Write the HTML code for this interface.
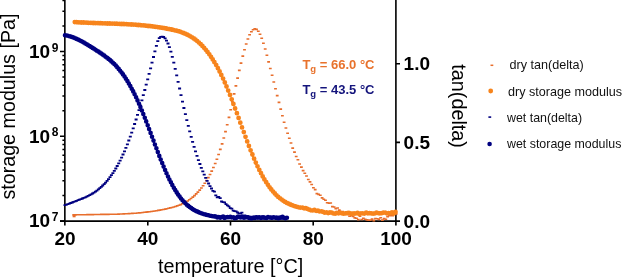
<!DOCTYPE html>
<html><head><meta charset="utf-8"><title>DMA plot</title>
<style>html,body{margin:0;padding:0;background:#fff;overflow:hidden}svg{display:block}</style>
</head><body>
<svg width="622" height="278" viewBox="0 0 622 278" font-family="'Liberation Sans', sans-serif" fill="#000">
<rect width="622" height="278" fill="#fff"/>
<path d="M64.85 0V225.5M395.9 0V225.5M60.0 221.1H400.0" stroke="#000" stroke-width="1.6" fill="none"/><path d="M60.0 221.1H65.0M60.0 136.3H65.0M60.0 51.6H65.0M62.4 195.6H65.0M62.4 180.7H65.0M62.4 170.1H65.0M62.4 161.9H65.0M62.4 155.2H65.0M62.4 149.5H65.0M62.4 144.6H65.0M62.4 140.2H65.0M62.4 110.8H65.0M62.4 95.9H65.0M62.4 85.3H65.0M62.4 77.1H65.0M62.4 70.4H65.0M62.4 64.7H65.0M62.4 59.8H65.0M62.4 55.5H65.0M62.4 26.1H65.0M62.4 11.2H65.0M62.4 0.6H65.0" stroke="#000" stroke-width="1.5" fill="none"/><path d="M396.0 142.4H400.0M396.0 63.8H400.0M147.8 221.1V225.5M230.5 221.1V225.5M313.2 221.1V225.5" stroke="#000" stroke-width="1.6" fill="none"/>
<path d="M72.4 214.9h2.8M74.1 214.9h2.8M75.8 214.8h2.8M77.6 214.8h2.8M79.3 214.8h2.8M81.0 214.7h2.8M82.7 214.7h2.8M84.5 214.7h2.8M86.2 214.6h2.8M87.9 214.6h2.8M89.6 214.6h2.8M91.4 214.6h2.8M93.1 214.5h2.8M94.8 214.5h2.8M96.5 214.5h2.8M98.3 214.5h2.8M100.0 214.4h2.8M101.7 214.4h2.8M103.4 214.4h2.8M105.2 214.4h2.8M106.9 214.4h2.8M108.6 214.3h2.8M110.3 214.3h2.8M112.1 214.3h2.8M113.8 214.2h2.8M115.5 214.2h2.8M117.2 214.1h2.8M118.9 214.0h2.8M120.7 214.0h2.8M122.4 213.9h2.8M124.1 213.8h2.8M125.8 213.7h2.8M127.6 213.6h2.8M129.3 213.5h2.8M131.0 213.4h2.8M132.7 213.3h2.8M134.5 213.2h2.8M136.2 213.0h2.8M137.9 212.9h2.8M139.6 212.7h2.8M141.4 212.5h2.8M143.1 212.3h2.8M144.8 212.1h2.8M146.5 211.9h2.8M148.3 211.7h2.8M150.0 211.5h2.8M151.7 211.2h2.8M153.4 211.0h2.8M155.2 210.7h2.8M156.9 210.4h2.8M158.6 210.1h2.8M160.3 209.8h2.8M162.0 209.5h2.8M163.8 209.1h2.8M165.5 208.7h2.8M167.2 208.3h2.8M168.9 207.9h2.8M170.7 207.5h2.8M172.4 207.0h2.8M174.1 206.5h2.8M175.8 205.9h2.8M177.6 205.3h2.8M179.3 204.6h2.8M181.0 203.8h2.8M182.7 202.9h2.8M184.5 202.0h2.8M186.2 201.0h2.8M187.9 199.8h2.8M189.6 198.5h2.8M191.4 197.1h2.8M193.1 195.6h2.8M194.8 193.9h2.8M196.5 192.1h2.8M198.3 190.1h2.8M200.0 188.0h2.8M201.7 185.7h2.8M203.4 183.2h2.8M205.1 180.5h2.8M206.9 177.6h2.8M208.6 174.5h2.8M210.3 171.1h2.8M212.0 167.5h2.8M213.8 163.5h2.8M215.5 159.2h2.8M217.2 154.5h2.8M218.9 149.4h2.8M220.7 143.9h2.8M222.4 138.0h2.8M224.1 131.6h2.8M225.8 124.7h2.8M227.6 117.4h2.8M229.3 109.7h2.8M231.0 101.9h2.8M232.7 93.9h2.8M234.5 85.9h2.8M236.2 78.1h2.8M237.9 70.4h2.8M239.6 63.1h2.8M241.4 56.1h2.8M243.1 49.7h2.8M244.8 44.0h2.8M246.5 39.0h2.8M248.2 34.8h2.8M250.0 31.7h2.8M251.7 29.7h2.8M253.4 28.9h2.8M255.1 29.4h2.8M256.9 31.2h2.8M258.6 34.2h2.8M260.3 38.2h2.8M262.0 43.2h2.8M263.8 49.0h2.8M265.5 55.3h2.8M267.2 61.9h2.8M268.9 68.5h2.8M270.7 75.3h2.8M272.4 82.0h2.8M274.1 88.8h2.8M275.8 95.6h2.8M277.6 102.4h2.8M279.3 109.1h2.8M281.0 115.8h2.8M282.7 122.2h2.8M284.5 128.0h2.8M286.2 133.3h2.8M287.9 138.3h2.8M289.6 143.0h2.8M291.3 148.1h2.8M293.1 152.1h2.8M294.8 156.5h2.8M296.5 159.8h2.8M298.2 164.0h2.8M300.0 167.1h2.8M301.7 170.6h2.8M303.4 173.2h2.8M305.1 176.0h2.8M306.9 179.5h2.8M308.6 181.9h2.8M310.3 184.5h2.8M312.0 187.8h2.8M313.8 189.6h2.8M315.5 193.6h2.8M317.2 194.4h2.8M318.9 195.3h2.8M320.7 197.9h2.8M322.4 199.3h2.8M324.1 200.3h2.8M325.8 202.8h2.8M327.6 203.1h2.8M329.3 203.0h2.8M331.0 206.6h2.8M332.7 207.0h2.8M334.4 208.6h2.8M336.2 208.0h2.8M337.9 210.1h2.8M339.6 211.6h2.8M341.3 211.6h2.8M343.1 212.8h2.8M344.8 213.2h2.8M346.5 214.4h2.8M348.2 216.3h2.8M350.0 215.6h2.8M351.7 216.4h2.8M353.4 217.9h2.8M355.1 218.2h2.8M356.9 219.6h2.8M358.6 216.2h2.8M360.3 219.5h2.8M362.0 218.4h2.8M363.8 219.2h2.8M365.5 219.9h2.8M367.2 220.1h2.8M368.9 220.1h2.8M370.7 219.1h2.8M372.4 220.6h2.8M374.1 218.6h2.8M375.8 218.7h2.8M377.5 219.4h2.8M379.3 217.7h2.8M381.0 220.1h2.8M382.7 218.6h2.8M384.4 219.3h2.8M386.2 216.6h2.8M387.9 215.8h2.8M389.6 215.7h2.8M391.3 215.7h2.8M393.1 213.7h2.8M394.8 214.0h2.8" stroke="#E86E2C" stroke-width="1.6" fill="none"/><rect x="72.6" y="214.3" width="3" height="3" fill="#E86E2C"/>
<path d="M74.8 22.1h0M76.5 22.2h0M78.2 22.3h0M80.0 22.4h0M81.7 22.5h0M83.4 22.5h0M85.1 22.6h0M86.9 22.7h0M88.6 22.8h0M90.3 22.8h0M92.0 22.9h0M93.8 23.0h0M95.5 23.1h0M97.2 23.1h0M98.9 23.2h0M100.7 23.2h0M102.4 23.3h0M104.1 23.3h0M105.8 23.4h0M107.6 23.5h0M109.3 23.5h0M111.0 23.6h0M112.7 23.6h0M114.5 23.7h0M116.2 23.7h0M117.9 23.8h0M119.6 23.9h0M121.3 24.0h0M123.1 24.0h0M124.8 24.1h0M126.5 24.2h0M128.2 24.3h0M130.0 24.4h0M131.7 24.5h0M133.4 24.6h0M135.1 24.7h0M136.9 24.9h0M138.6 25.0h0M140.3 25.1h0M142.0 25.3h0M143.8 25.4h0M145.5 25.6h0M147.2 25.8h0M148.9 26.0h0M150.7 26.2h0M152.4 26.4h0M154.1 26.6h0M155.8 26.8h0M157.6 27.1h0M159.3 27.3h0M161.0 27.6h0M162.7 27.8h0M164.4 28.1h0M166.2 28.5h0M167.9 28.8h0M169.6 29.1h0M171.3 29.5h0M173.1 29.9h0M174.8 30.3h0M176.5 30.7h0M178.2 31.2h0M180.0 31.7h0M181.7 32.3h0M183.4 33.0h0M185.1 33.7h0M186.9 34.5h0M188.6 35.3h0M190.3 36.3h0M192.0 37.3h0M193.8 38.5h0M195.5 39.7h0M197.2 41.1h0M198.9 42.6h0M200.7 44.2h0M202.4 46.0h0M204.1 47.8h0M205.8 49.8h0M207.5 51.9h0M209.3 54.3h0M211.0 56.8h0M212.7 59.4h0M214.4 62.2h0M216.2 65.1h0M217.9 68.2h0M219.6 71.5h0M221.3 75.0h0M223.1 78.6h0M224.8 82.4h0M226.5 86.4h0M228.2 90.6h0M230.0 94.9h0M231.7 99.3h0M233.4 103.9h0M235.1 108.5h0M236.9 113.2h0M238.6 117.9h0M240.3 122.7h0M242.0 127.4h0M243.8 132.1h0M245.5 136.8h0M247.2 141.4h0M248.9 145.9h0M250.6 150.3h0M252.4 154.5h0M254.1 158.7h0M255.8 162.6h0M257.5 166.3h0M259.3 169.9h0M261.0 173.2h0M262.7 176.4h0M264.4 179.4h0M266.2 182.2h0M267.9 184.8h0M269.6 187.3h0M271.3 189.5h0M273.1 191.6h0M274.8 193.5h0M276.5 195.3h0M278.2 196.9h0M280.0 198.3h0M281.7 199.6h0M283.4 200.8h0M285.1 201.9h0M286.9 202.9h0M288.6 203.7h0M290.3 204.5h0M292.0 205.2h0M293.7 205.8h0M295.5 206.4h0M297.2 206.9h0M298.9 207.3h0M300.6 207.6h0M302.4 207.6h0M304.1 208.3h0M305.8 208.1h0M307.5 208.9h0M309.3 209.7h0M311.0 210.3h0M312.7 210.4h0M314.4 210.0h0M316.2 210.8h0M317.9 210.6h0M319.6 211.4h0M321.3 211.3h0M323.1 211.9h0M324.8 212.7h0M326.5 212.3h0M328.2 213.1h0M330.0 212.5h0M331.7 212.6h0M333.4 213.4h0M335.1 213.7h0M336.8 213.0h0M338.6 213.3h0M340.3 212.8h0M342.0 213.3h0M343.7 213.7h0M345.5 213.3h0M347.2 213.1h0M348.9 212.9h0M350.6 213.5h0M352.4 213.6h0M354.1 213.5h0M355.8 213.4h0M357.5 212.9h0M359.3 213.9h0M361.0 213.3h0M362.7 213.3h0M364.4 213.6h0M366.2 212.6h0M367.9 213.3h0M369.6 213.2h0M371.3 213.4h0M373.1 213.7h0M374.8 213.4h0M376.5 212.6h0M378.2 213.1h0M379.9 213.3h0M381.7 213.2h0M383.4 212.7h0M385.1 212.6h0M386.8 213.3h0M388.6 213.2h0M390.3 213.1h0M392.0 212.4h0M393.7 213.6h0M395.5 212.0h0" stroke="#F7841C" stroke-width="4.8" stroke-linecap="round" fill="none"/>
<path d="M63.5 205.2h3.0M65.0 204.6h3.0M66.4 204.1h3.0M67.9 203.6h3.0M69.3 203.0h3.0M70.8 202.5h3.0M72.2 201.9h3.0M73.7 201.4h3.0M75.1 200.8h3.0M76.6 200.2h3.0M78.0 199.7h3.0M79.5 199.1h3.0M80.9 198.5h3.0M82.4 197.9h3.0M83.8 197.3h3.0M85.3 196.7h3.0M86.7 195.9h3.0M88.2 195.2h3.0M89.6 194.4h3.0M91.1 193.5h3.0M92.5 192.6h3.0M94.0 191.6h3.0M95.4 190.6h3.0M96.9 189.4h3.0M98.3 188.2h3.0M99.8 186.9h3.0M101.2 185.5h3.0M102.7 184.1h3.0M104.1 182.6h3.0M105.6 180.9h3.0M107.0 179.1h3.0M108.5 177.2h3.0M109.9 175.2h3.0M111.4 173.1h3.0M112.8 170.9h3.0M114.3 168.5h3.0M115.7 166.0h3.0M117.2 163.4h3.0M118.6 160.6h3.0M120.1 157.6h3.0M121.5 154.5h3.0M123.0 151.3h3.0M124.4 147.9h3.0M125.9 144.3h3.0M127.3 140.5h3.0M128.8 136.6h3.0M130.2 132.6h3.0M131.7 128.4h3.0M133.1 124.0h3.0M134.6 119.5h3.0M136.0 114.9h3.0M137.5 110.1h3.0M138.9 105.3h3.0M140.4 100.3h3.0M141.8 95.2h3.0M143.3 90.0h3.0M144.7 84.7h3.0M146.2 79.3h3.0M147.6 73.8h3.0M149.1 68.3h3.0M150.5 62.7h3.0M152.0 57.0h3.0M153.4 51.3h3.0M154.9 45.8h3.0M156.3 41.2h3.0M157.8 38.2h3.0M159.2 36.9h3.0M160.7 36.7h3.0M162.1 37.0h3.0M163.6 38.4h3.0M165.0 40.6h3.0M166.5 43.5h3.0M167.9 47.2h3.0M169.4 51.7h3.0M170.8 56.9h3.0M172.3 62.7h3.0M173.7 68.9h3.0M175.2 75.3h3.0M176.6 81.9h3.0M178.1 88.5h3.0M179.5 95.1h3.0M181.0 101.6h3.0M182.4 108.0h3.0M183.9 114.2h3.0M185.3 120.1h3.0M186.8 125.9h3.0M188.2 131.4h3.0M189.7 136.8h3.0M191.1 141.9h3.0M192.6 146.8h3.0M194.0 151.4h3.0M195.5 155.9h3.0M196.9 160.1h3.0M198.4 164.0h3.0M199.8 167.8h3.0M201.3 171.3h3.0M202.7 174.7h3.0M204.2 177.8h3.0M205.6 180.8h3.0M207.1 183.5h3.0M208.5 186.1h3.0M210.0 188.5h3.0M211.4 190.8h3.0M212.9 191.6h3.0M214.3 195.4h3.0M215.8 197.3h3.0M217.2 196.8h3.0M218.7 198.2h3.0M220.1 201.5h3.0M221.6 202.2h3.0M223.0 202.3h3.0M224.5 204.2h3.0M225.9 205.4h3.0M227.4 206.3h3.0M228.8 208.1h3.0M230.3 208.6h3.0M231.7 210.7h3.0M233.2 211.2h3.0M234.6 211.3h3.0M236.1 212.5h3.0M237.5 213.5h3.0M239.0 213.7h3.0M240.4 212.7h3.0M241.9 215.3h3.0M243.3 215.5h3.0M244.8 217.5h3.0M246.2 216.2h3.0M247.7 216.7h3.0M249.1 216.7h3.0M250.6 218.0h3.0M252.0 216.7h3.0M253.5 216.4h3.0M254.9 217.0h3.0M256.4 216.4h3.0M257.8 217.1h3.0M259.3 217.0h3.0M260.7 217.3h3.0M262.2 218.8h3.0M263.6 216.8h3.0M265.1 217.3h3.0M266.5 217.1h3.0M268.0 217.9h3.0M269.4 216.3h3.0M270.9 216.7h3.0M272.3 217.4h3.0M273.8 217.9h3.0M275.2 217.4h3.0M276.7 217.0h3.0M278.1 216.7h3.0M279.6 217.9h3.0M281.0 218.8h3.0M282.5 217.8h3.0M283.9 217.7h3.0M285.4 217.9h3.0" stroke="#000080" stroke-width="1.8" fill="none"/>
<path d="M65.0 35.2h0M66.5 35.5h0M67.9 35.8h0M69.4 36.2h0M70.8 36.6h0M72.3 37.1h0M73.7 37.6h0M75.2 38.2h0M76.6 38.9h0M78.1 39.6h0M79.5 40.3h0M81.0 41.0h0M82.4 41.8h0M83.9 42.6h0M85.3 43.5h0M86.8 44.3h0M88.2 45.2h0M89.7 46.1h0M91.1 47.0h0M92.6 47.9h0M94.0 48.8h0M95.5 49.8h0M96.9 50.7h0M98.4 51.6h0M99.8 52.6h0M101.3 53.6h0M102.7 54.6h0M104.2 55.6h0M105.6 56.7h0M107.1 57.8h0M108.5 58.9h0M110.0 60.1h0M111.4 61.4h0M112.9 62.7h0M114.3 64.1h0M115.8 65.6h0M117.2 67.2h0M118.7 68.9h0M120.1 70.7h0M121.6 72.5h0M123.0 74.4h0M124.5 76.5h0M125.9 78.7h0M127.4 81.1h0M128.8 83.5h0M130.3 86.0h0M131.7 88.7h0M133.2 91.4h0M134.6 94.3h0M136.1 97.3h0M137.5 100.4h0M139.0 103.7h0M140.4 107.0h0M141.9 110.5h0M143.3 114.1h0M144.8 117.7h0M146.2 121.4h0M147.7 125.2h0M149.1 129.1h0M150.6 132.9h0M152.0 136.8h0M153.5 140.6h0M154.9 144.5h0M156.4 148.3h0M157.8 152.1h0M159.3 155.9h0M160.7 159.5h0M162.2 163.1h0M163.6 166.6h0M165.1 170.0h0M166.5 173.3h0M168.0 176.5h0M169.4 179.5h0M170.9 182.3h0M172.3 185.1h0M173.8 187.7h0M175.2 190.1h0M176.7 192.4h0M178.1 194.6h0M179.6 196.6h0M181.0 198.5h0M182.5 200.2h0M183.9 201.8h0M185.4 203.3h0M186.8 204.7h0M188.3 205.9h0M189.7 207.0h0M191.2 208.1h0M192.6 209.1h0M194.1 210.0h0M195.5 210.8h0M197.0 211.4h0M198.4 212.1h0M199.9 212.7h0M201.3 213.2h0M202.8 213.7h0M204.2 214.2h0M205.7 214.6h0M207.1 215.0h0M208.6 215.3h0M210.0 215.7h0M211.5 216.0h0M212.9 216.2h0M214.4 216.4h0M215.8 216.6h0M217.3 217.4h0M218.7 217.1h0M220.2 217.8h0M221.6 217.1h0M223.1 216.6h0M224.5 217.9h0M226.0 217.3h0M227.4 217.1h0M228.9 217.3h0M230.3 216.9h0M231.8 217.5h0M233.2 217.2h0M234.7 218.2h0M236.1 217.9h0M237.6 216.9h0M239.0 217.0h0M240.5 217.4h0M241.9 216.9h0M243.4 217.6h0M244.8 217.6h0M246.3 217.3h0M247.7 217.4h0M249.2 217.9h0M250.6 218.2h0M252.1 218.3h0M253.5 217.7h0M255.0 218.0h0M256.4 217.4h0M257.9 217.8h0M259.3 217.3h0M260.8 218.0h0M262.2 217.2h0M263.7 217.3h0M265.1 217.7h0M266.6 217.9h0M268.0 217.1h0M269.5 217.5h0M270.9 217.8h0M272.4 217.8h0M273.8 217.4h0M275.3 217.7h0M276.7 217.6h0M278.2 218.3h0M279.6 217.9h0M281.1 217.2h0M282.5 216.8h0M284.0 217.7h0M285.4 218.2h0M286.9 217.8h0" stroke="#000080" stroke-width="4.6" stroke-linecap="round" fill="none"/>
<path d="M490.5 65.3h2.8" stroke="#E86E2C" stroke-width="1.5"/><circle cx="490.7" cy="91" r="2.4" fill="#F7841C"/><path d="M488.4 117.1h2.8" stroke="#000080" stroke-width="1.6"/><circle cx="489.6" cy="144" r="2.3" fill="#000080"/>
<text x="65.0" y="245.4" text-anchor="middle" font-weight="bold" font-size="19">20</text><text x="147.8" y="245.4" text-anchor="middle" font-weight="bold" font-size="19">40</text><text x="230.5" y="245.4" text-anchor="middle" font-weight="bold" font-size="19">60</text><text x="313.2" y="245.4" text-anchor="middle" font-weight="bold" font-size="19">80</text><text x="396.0" y="245.4" text-anchor="middle" font-weight="bold" font-size="19">100</text><text x="29" y="227.4" font-weight="bold" font-size="19">10<tspan font-size="12" dx="1.7" dy="-6.3">7</tspan></text><text x="29" y="142.7" font-weight="bold" font-size="19">10<tspan font-size="12" dx="1.7" dy="-6.3">8</tspan></text><text x="29" y="57.9" font-weight="bold" font-size="19">10<tspan font-size="12" dx="1.7" dy="-6.3">9</tspan></text><text x="403.6" y="227.5" font-weight="bold" font-size="19">0.0</text><text x="403.6" y="148.8" font-weight="bold" font-size="19">0.5</text><text x="403.6" y="70.2" font-weight="bold" font-size="19">1.0</text><text transform="translate(14.9,199.6) rotate(-90)" font-size="19.7">storage modulus [Pa]</text><text x="230.6" y="272.8" text-anchor="middle" font-size="19.8">temperature [°C]</text><text transform="translate(452.1,64.3) rotate(90)" font-size="19.8">tan(delta)</text><text x="302.4" y="69" font-weight="bold" font-size="13" fill="#E8722C">T<tspan font-size="9.5" dy="3">g</tspan><tspan dy="-3"> = 66.0 °C</tspan></text><text x="302.4" y="94" font-weight="bold" font-size="13" fill="#14147C">T<tspan font-size="9.5" dy="3">g</tspan><tspan dy="-3"> = 43.5 °C</tspan></text><text x="509.5" y="68.7" font-size="12.6" fill="#111">dry tan(delta)</text><text x="508" y="95.6" font-size="12.6" fill="#111">dry storage modulus</text><text x="507" y="121.7" font-size="12.4" fill="#111">wet tan(delta)</text><text x="507" y="148.4" font-size="12.4" fill="#111">wet storage modulus</text>
</svg>
</body></html>
